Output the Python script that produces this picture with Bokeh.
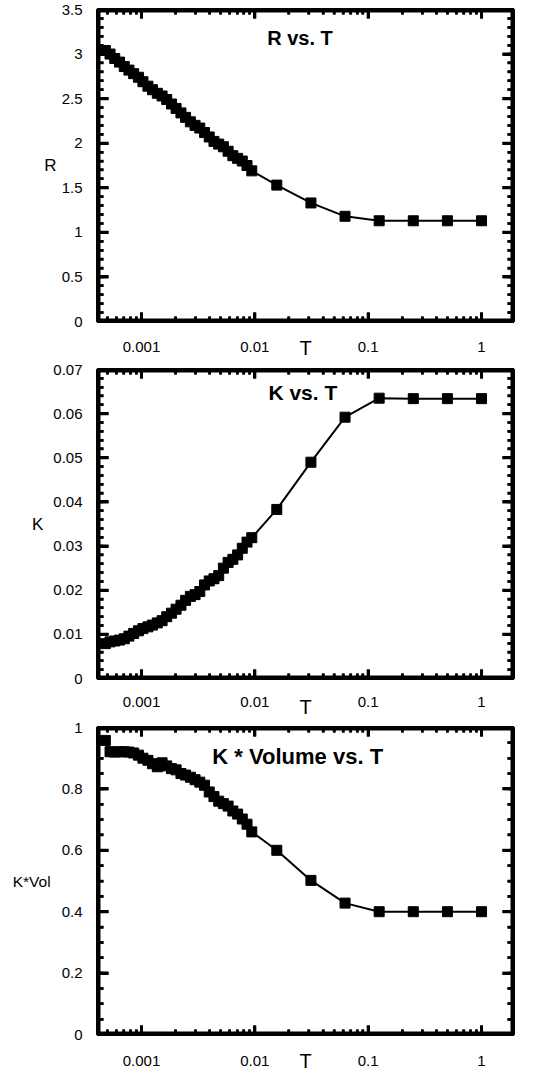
import math
from bokeh.plotting import figure
from bokeh.models import LogAxis, LinearAxis, FixedTicker, Range1d, Label
from bokeh.layouts import column
from bokeh.embed import file_html
from bokeh.resources import INLINE

# ---------------- data ----------------
T = [0.00048, 0.000528, 0.000581, 0.00064, 0.000705, 0.000775, 0.000853, 0.00094,
     0.00103, 0.00114, 0.00125, 0.00138, 0.00152, 0.00167, 0.00184, 0.00202,
     0.00223, 0.00245, 0.0027, 0.00297, 0.00327, 0.0036, 0.00396, 0.00436,
     0.0048, 0.00528, 0.00581, 0.0064, 0.00705, 0.00775, 0.00853, 0.0094,
     0.015625, 0.03125, 0.0625, 0.125, 0.25, 0.5, 1.0]

R = [3.04, 3.00, 2.95, 2.91, 2.86, 2.82, 2.78, 2.74, 2.69, 2.64, 2.60, 2.56,
     2.53, 2.49, 2.44, 2.39, 2.34, 2.29, 2.24, 2.20, 2.17, 2.12, 2.07, 2.02,
     1.99, 1.96, 1.91, 1.86, 1.83, 1.80, 1.75, 1.69,
     1.53, 1.33, 1.18, 1.13, 1.13, 1.13, 1.13]

K = [0.0079, 0.0083, 0.0085, 0.0087, 0.0090, 0.0096, 0.0102, 0.0108, 0.0113,
     0.0117, 0.0121, 0.0126, 0.0131, 0.0140, 0.0148, 0.0157, 0.0166, 0.0177,
     0.0186, 0.0190, 0.0197, 0.0212, 0.0221, 0.0226, 0.0233, 0.0250, 0.0263,
     0.0270, 0.0280, 0.0295, 0.0309, 0.0319,
     0.0383, 0.0490, 0.0592, 0.0635, 0.0634, 0.0634, 0.0634]

KVOL = [0.958, 0.921, 0.920, 0.921, 0.921, 0.920, 0.917, 0.910, 0.900, 0.893,
        0.882, 0.872, 0.885, 0.875, 0.866, 0.862, 0.850, 0.845, 0.838, 0.830,
        0.822, 0.812, 0.790, 0.775, 0.760, 0.752, 0.744, 0.728, 0.718, 0.702,
        0.685, 0.660,
        0.600, 0.502, 0.428, 0.400, 0.400, 0.400, 0.400]

X_TICKS = [0.001, 0.01, 0.1, 1.0]
X_LABELS = ["0.001", "0.01", "0.1", "1"]

R_TICKS = [0, 0.5, 1, 1.5, 2, 2.5, 3, 3.5]
R_LABELS = ["0", "0.5", "1", "1.5", "2", "2.5", "3", "3.5"]
K_TICKS = [0, 0.01, 0.02, 0.03, 0.04, 0.05, 0.06, 0.07]
K_LABELS = ["0", "0.01", "0.02", "0.03", "0.04", "0.05", "0.06", "0.07"]
KV_TICKS = [0, 0.2, 0.4, 0.6, 0.8, 1.0]
KV_LABELS = ["0", "0.2", "0.4", "0.6", "0.8", "1"]

TITLES = ["R vs. T", "K vs. T", "K * Volume vs. T"]
Y_NAMES = ["R", "K", "K*Vol"]
X_NAME = "T"

# ---------------- styling ----------------
FONT = "Liberation Sans"
LOG_MIN, LOG_MAX = -3.388, 0.282
XMIN, XMAX = 10 ** LOG_MIN, 10 ** LOG_MAX
X_MINOR = [m * 10.0 ** e for e in (-4, -3, -2, -1, 0) for m in range(2, 10)]
X_MINOR = [v for v in X_MINOR if XMIN < v < XMAX]
LEFT_B = 97
FRAME_W = 416
WIDTH = 551
PX_PER_DEC = FRAME_W / (LOG_MAX - LOG_MIN)


def style_axis(ax, show_labels, major_len, minor_len):
    ax.axis_line_color = "black"
    ax.axis_line_width = 3
    ax.major_tick_line_color = "black"
    ax.minor_tick_line_color = "black"
    ax.major_tick_line_width = 3
    ax.minor_tick_line_width = 2.5
    ax.major_tick_in = major_len
    ax.major_tick_out = 0
    ax.minor_tick_in = minor_len
    ax.minor_tick_out = 0
    ax.major_label_text_font = FONT
    ax.major_label_text_color = "black"
    if show_labels:
        ax.major_label_text_font_size = "15px"
    else:
        ax.major_label_text_font_size = "0px"
        ax.major_label_standoff = 0


def draw_ticks(p, ymax, frame_h, yticks, yminor):
    """Inward tick marks on all four sides, drawn as segments."""
    def xs_len(px):
        return 10 ** (px / PX_PER_DEC)

    def ys_len(px):
        return ymax * px / frame_h

    kw = dict(line_color="black", line_cap="butt")
    for ticks, ln, w in ((X_TICKS, 9, 3), (X_MINOR, 5, 2.5)):
        n = len(ticks)
        p.segment(x0=ticks, y0=[0] * n, x1=ticks, y1=[ys_len(ln)] * n, line_width=w, **kw)
        p.segment(x0=ticks, y0=[ymax] * n, x1=ticks, y1=[ymax - ys_len(ln)] * n, line_width=w, **kw)
    for ticks, ln, w in ((yticks, 11, 3), (yminor, 6, 2.5)):
        n = len(ticks)
        p.segment(x0=[XMIN] * n, y0=ticks, x1=[XMIN * xs_len(ln)] * n, y1=ticks, line_width=w, **kw)
        p.segment(x0=[XMAX] * n, y0=ticks, x1=[XMAX / xs_len(ln)] * n, y1=ticks, line_width=w, **kw)
    # frame border
    p.quad(left=XMIN, right=XMAX, bottom=0, top=ymax, fill_color=None,
           line_color="black", line_width=6)


def panel(y, ymax, yticks, ylabels, yminor, yname, ylab_size, title, title_pos,
          title_size, top, frame_h, bottom, x_standoff, t_standoff, ylab_standoff):
    p = figure(width=WIDTH, height=top + frame_h + bottom,
               x_axis_type="log", x_range=Range1d(XMIN, XMAX),
               y_range=Range1d(0, ymax),
               x_axis_location=None, y_axis_location=None,
               output_backend="svg", toolbar_location=None,
               min_border_left=LEFT_B, min_border_right=WIDTH - LEFT_B - FRAME_W,
               min_border_top=top, min_border_bottom=bottom)
    p.outline_line_color = "black"
    p.outline_line_width = 3
    p.grid.visible = False
    p.background_fill_color = "white"
    p.border_fill_color = "white"

    xt = FixedTicker(ticks=X_TICKS, minor_ticks=X_MINOR)
    yt = FixedTicker(ticks=yticks, minor_ticks=yminor)

    bot = LogAxis(ticker=xt, major_label_overrides=dict(zip(X_TICKS, X_LABELS)))
    style_axis(bot, True, 9, 5)
    bot.major_label_standoff = x_standoff
    bot.axis_label = X_NAME
    bot.axis_label_text_font = FONT
    bot.axis_label_text_font_style = "normal"
    bot.axis_label_text_font_size = "20px"
    bot.axis_label_text_color = "black"
    bot.axis_label_standoff = t_standoff
    p.add_layout(bot, "below")

    topax = LogAxis(ticker=xt, major_label_overrides={t: "" for t in X_TICKS})
    style_axis(topax, False, 9, 5)
    p.add_layout(topax, "above")

    left = LinearAxis(ticker=yt, major_label_overrides=dict(zip(yticks, ylabels)))
    style_axis(left, True, 11, 6)
    left.major_label_standoff = 15
    left.axis_label = yname
    left.axis_label_orientation = "horizontal"
    left.axis_label_text_font = FONT
    left.axis_label_text_font_style = "normal"
    left.axis_label_text_font_size = ylab_size
    left.axis_label_text_color = "black"
    left.axis_label_standoff = ylab_standoff
    p.add_layout(left, "left")

    right = LinearAxis(ticker=yt, major_label_overrides={t: "" for t in yticks})
    style_axis(right, False, 11, 6)
    p.add_layout(right, "right")

    draw_ticks(p, ymax, frame_h, yticks, yminor)

    p.line(T, y, line_color="black", line_width=2)
    p.scatter(T, y, marker="square", size=10, fill_color="black",
              line_color="black")

    p.add_layout(Label(x=title_pos[0], y=title_pos[1], text=title,
                       text_font=FONT, text_font_style="bold",
                       text_font_size=title_size, text_align="center",
                       text_baseline="middle", text_color="black"))
    return p


p1 = panel(R, 3.5, R_TICKS, R_LABELS, [i / 10 for i in range(36)],
           Y_NAMES[0], "17px", TITLES[0], (0.025, 3.175), "20px",
           top=9, frame_h=312, bottom=40, x_standoff=20, t_standoff=-18,
           ylab_standoff=2)
p2 = panel(K, 0.07, K_TICKS, K_LABELS, [i * 0.002 for i in range(36)],
           Y_NAMES[1], "17px", TITLES[1], (0.0265, 0.0648), "21px",
           top=8, frame_h=310, bottom=41, x_standoff=18, t_standoff=-14,
           ylab_standoff=7)
p3 = panel(KVOL, 1.0, KV_TICKS, KV_LABELS, [i * 0.05 for i in range(21)],
           Y_NAMES[2], "15.5px", TITLES[2], (0.0239, 0.906), "22px",
           top=7, frame_h=308, bottom=39, x_standoff=21, t_standoff=-19,
           ylab_standoff=8)

layout = column(p1, p2, p3, spacing=0)
open("out.html", "w").write(file_html(layout, INLINE))
